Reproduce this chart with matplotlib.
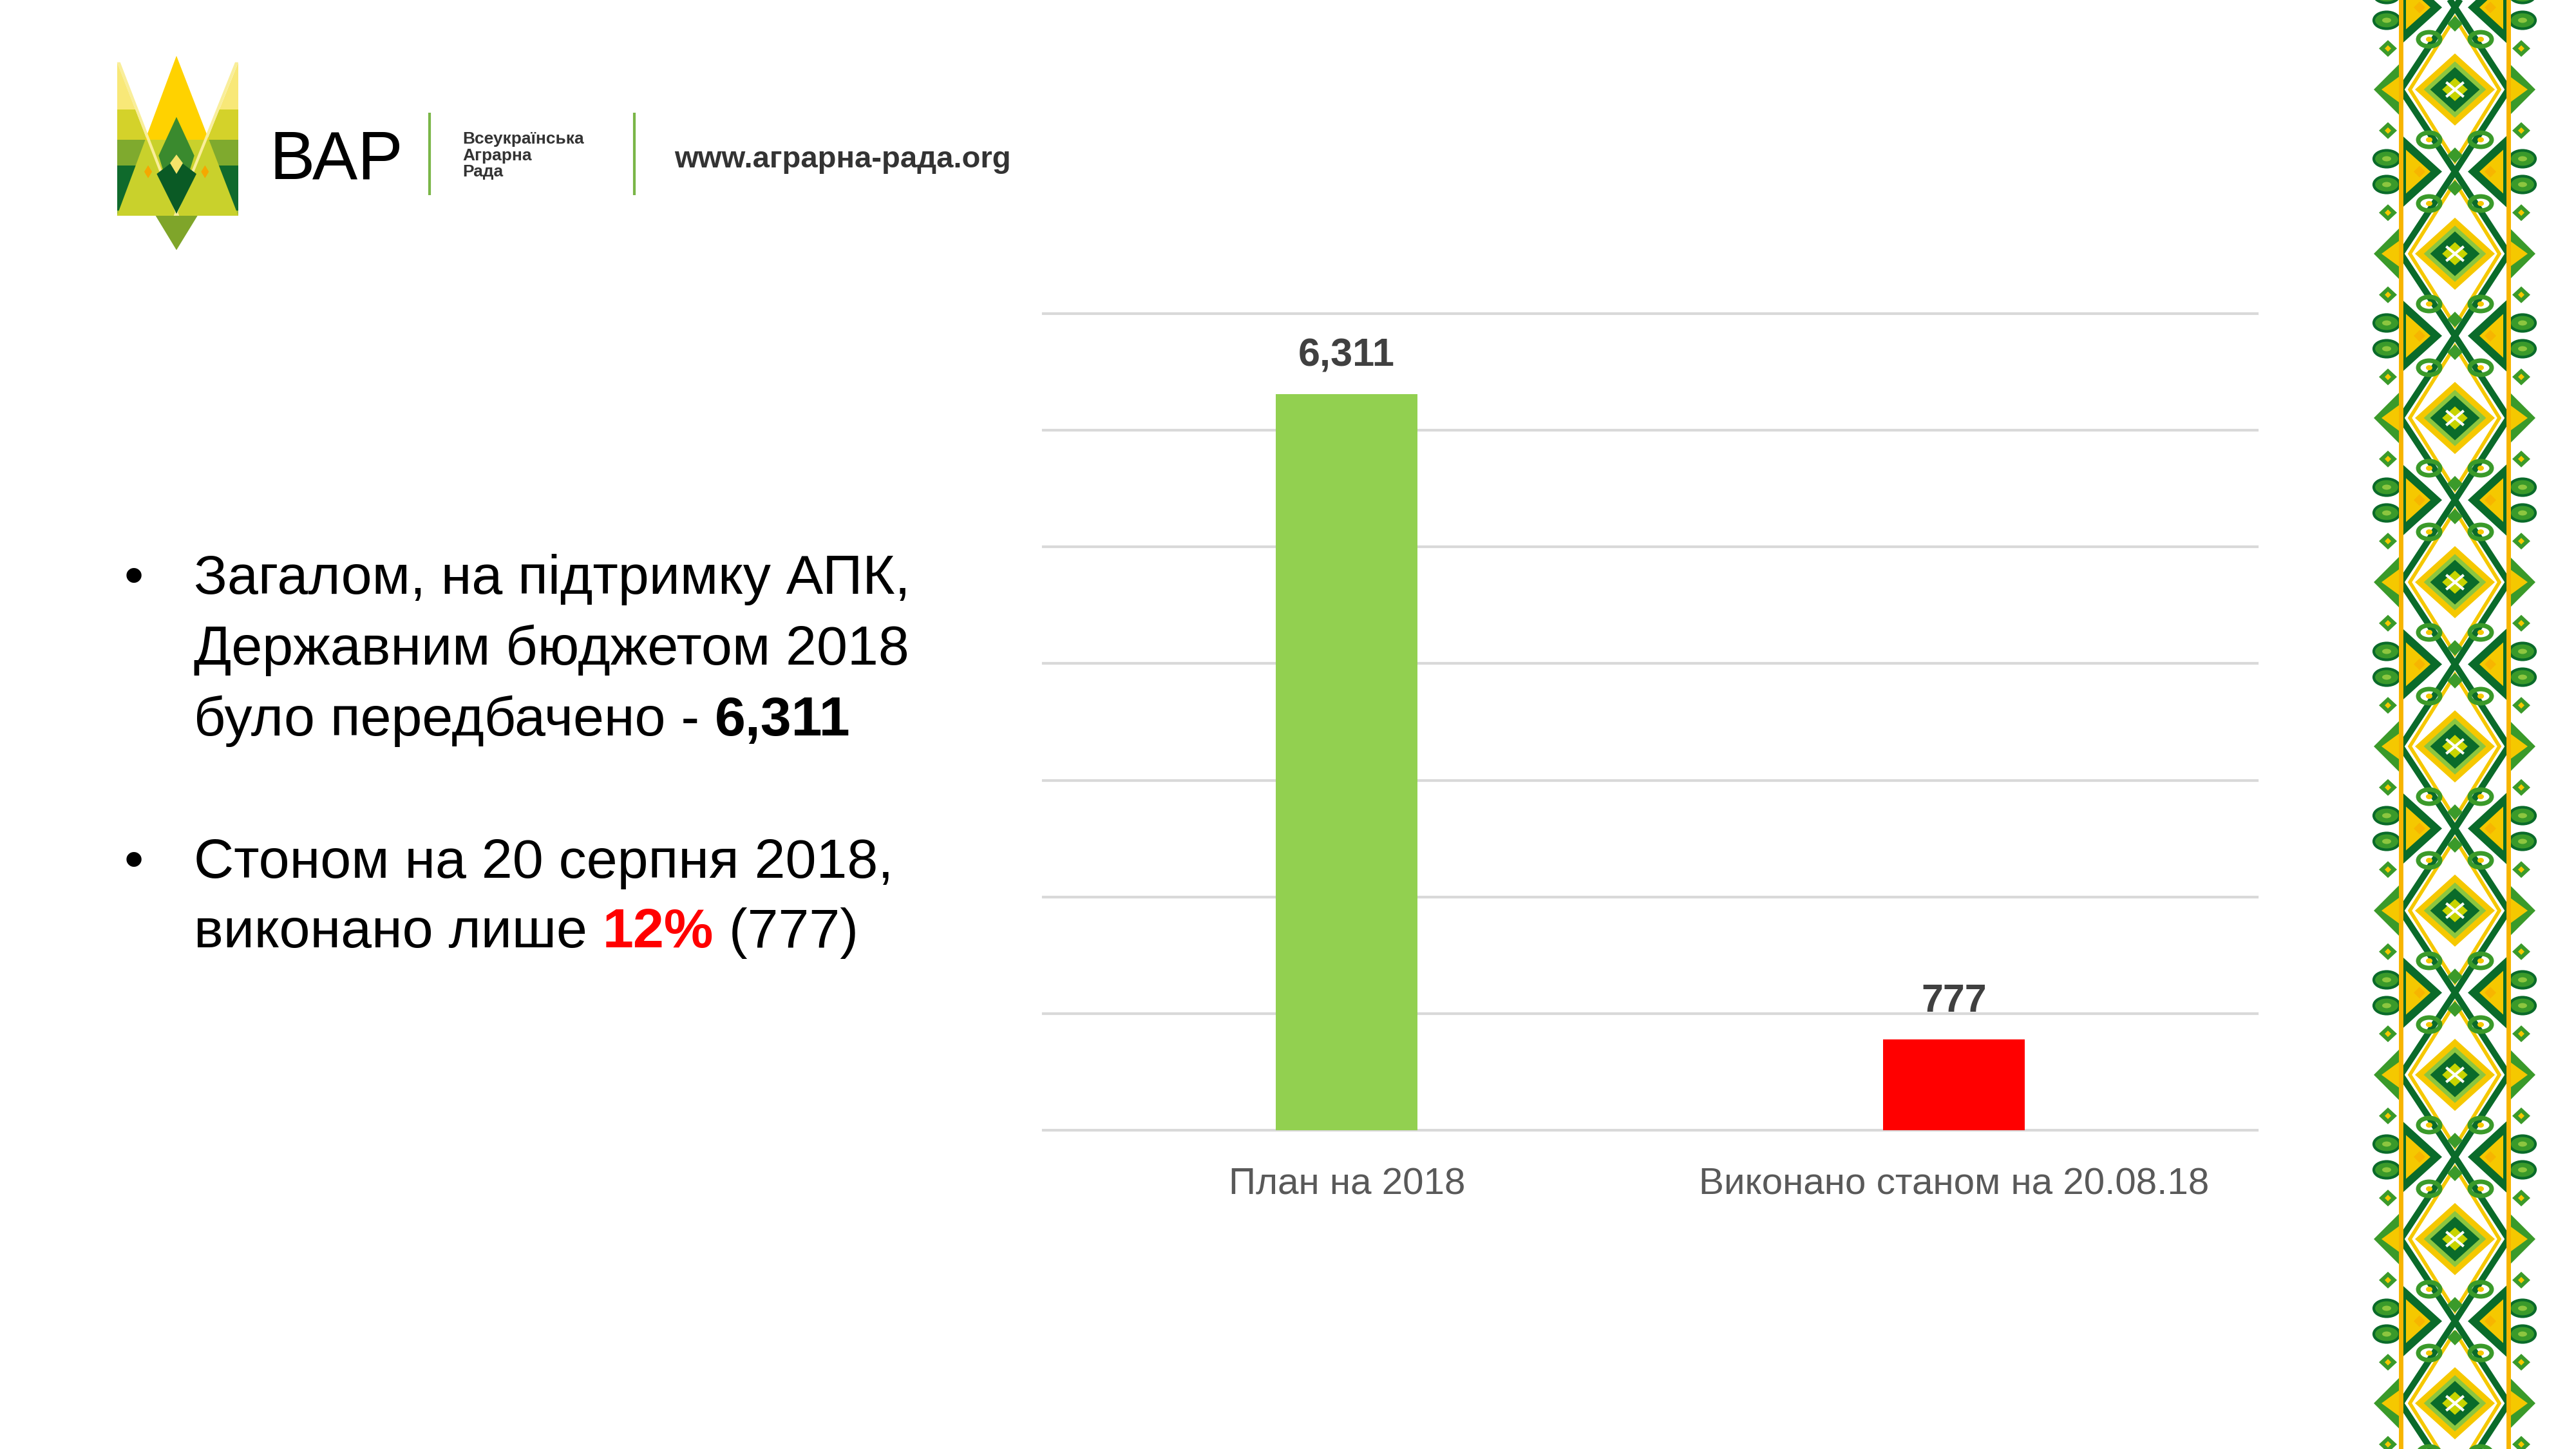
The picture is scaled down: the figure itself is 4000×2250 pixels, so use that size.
import matplotlib
matplotlib.use('Agg')
import matplotlib.pyplot as plt
from matplotlib.patches import Polygon, Ellipse, Rectangle

# ---------------- data ----------------
categories = ['План на 2018', 'Виконано станом на 20.08.18']
values = [6311, 777]
value_labels = ['6,311', '777']
bar_colors = ['#92D050', '#FF0000']
y_ticks = [0, 1000, 2000, 3000, 4000, 5000, 6000, 7000]

bullet1 = [[('Загалом, на підтримку АПК,', 'normal', 'black')],
           [('Державним бюджетом 2018', 'normal', 'black')],
           [('було передбачено - ', 'normal', 'black'), ('6,311', 'bold', 'black')]]
bullet2 = [[('Стоном на 20 серпня 2018,', 'normal', 'black')],
           [('виконано лише ', 'normal', 'black'), ('12%', 'bold', '#FF0000'),
            (' (777)', 'normal', 'black')]]

FONT = ['Liberation Sans', 'DejaVu Sans']
NARROW = ['Liberation Sans Narrow', 'Liberation Sans', 'DejaVu Sans']
plt.rcParams['font.family'] = FONT

W, H = 4000, 2250
fig = plt.figure(figsize=(40, 22.5), dpi=100)
fig.patch.set_facecolor('white')

# background axes in pixel coordinates (y downwards)
bg = fig.add_axes([0, 0, 1, 1])
bg.set_xlim(0, W)
bg.set_ylim(H, 0)
bg.axis('off')


def poly(pts, color, z=1, **kw):
    p = Polygon(pts, closed=True, facecolor=color, edgecolor='none', zorder=z, **kw)
    bg.add_patch(p)
    return p


# ---------------- logo ----------------
def L(zx, zy):
    return (150 + zx / 3.0, 60 + zy / 3.0)


def banded(tri, bands, z):
    clip = poly([L(*p) for p in tri], 'none', z)
    for (y0, y1, c) in bands:
        x0, ya = L(0, y0)
        x1, yb = L(900, y1)
        r = Rectangle((x0, ya), x1 - x0, yb - ya, facecolor=c, edgecolor='none', zorder=z)
        bg.add_patch(r)
        r.set_clip_path(clip)


side_bands = [(100, 330, '#F8E878'), (330, 470, '#D4D22A'), (470, 590, '#7FAA2E'),
              (590, 800, '#0F6A2C'), (800, 830, '#9DBB33')]
banded([(95, 110), (95, 825), (372, 825)], side_bands, 2)
banded([(660, 110), (660, 825), (372, 825)], side_bands, 2)
banded([(372, 80), (95, 825), (660, 825)],
       [(70, 470, '#FFD200'), (470, 830, '#C9D12C')], 3)
# light crossing stripes
poly([L(95, 110), L(110, 110), L(385, 825), L(372, 825)], '#F9EE9A', 3.2)
poly([L(660, 110), L(645, 110), L(359, 825), L(372, 825)], '#F9EE9A', 3.2)
poly([L(372, 365), L(455, 545), L(372, 815), L(289, 545)], '#3A8A2E', 4)
poly([L(280, 630), L(372, 560), L(465, 630), L(372, 815)], '#0A5A25', 4.2)
poly([L(372, 540), L(402, 580), L(372, 630), L(342, 580)], '#F5E36A', 4.4)
poly([L(240, 590), L(258, 620), L(240, 650), L(222, 620)], '#F5A800', 4.4)
poly([L(505, 590), L(523, 620), L(505, 650), L(487, 620)], '#F5A800', 4.4)
poly([L(275, 825), L(470, 825), L(372, 985)], '#7FA52A', 4)

bg.text(418, 278, 'ВАР', fontsize=76, color='black', va='baseline', ha='left', family=FONT, zorder=6)
bg.plot([667, 667], [175, 303], color='#7AB648', lw=3, solid_capstyle='butt', zorder=6)
bg.plot([985, 985], [175, 303], color='#7AB648', lw=3, solid_capstyle='butt', zorder=6)
for s, yy in zip(['Всеукраїнська', 'Аграрна', 'Рада'], [223, 249, 274]):
    bg.text(718, yy, s, fontsize=19, fontweight='bold', color='#333333', va='baseline',
            ha='left', family=NARROW, zorder=6)
bg.text(1047, 260, 'www.аграрна-рада.org', fontsize=34, fontweight='bold', color='#333333',
        va='baseline', ha='left', family=FONT, zorder=6)

# ---------------- embroidery strip ----------------
cx = 3812
xl, xr = 3728, 3895
P = 255
DG = '#0A6B2A'
MG = '#3A9A2A'
LG = '#8CC63F'
YE = '#F5C800'
OR = '#F7B500'
for k in range(-1, 10):
    yc = 139 + k * P
    # lattice frame
    fr = [(cx, yc - P / 2), (xr, yc), (cx, yc + P / 2), (xl, yc)]
    bg.add_patch(Polygon(fr, closed=True, facecolor='none', edgecolor=DG, lw=7, zorder=2))
    fr2 = [(cx, yc - P / 2 + 16), (xr - 14, yc), (cx, yc + P / 2 - 16), (xl + 14, yc)]
    bg.add_patch(Polygon(fr2, closed=True, facecolor='none', edgecolor=YE, lw=4, zorder=2))
    # big diamond
    for s, c in [(1.0, YE), (0.78, LG), (0.62, DG), (0.32, '#C8D400')]:
        poly([(cx, yc - 56 * s), (cx + 62 * s, yc), (cx, yc + 56 * s), (cx - 62 * s, yc)], c, 3)
    bg.plot([cx - 12, cx + 12], [yc - 10, yc + 10], color='white', lw=3, zorder=3.5)
    bg.plot([cx - 12, cx + 12], [yc + 10, yc - 10], color='white', lw=3, zorder=3.5)
    # curls around the big diamond
    for dx in (-40, 40):
        for dy in (-78, 78):
            bg.add_patch(Ellipse((cx + dx, yc + dy), 34, 22, facecolor='none', edgecolor=MG, lw=5, zorder=3))
            bg.add_patch(Ellipse((cx + dx, yc + dy), 10, 8, facecolor=YE, edgecolor='none', zorder=3))
    # small diamonds on the axis
    for dy in (-102, 102):
        poly([(cx, yc + dy - 12), (cx + 12, yc + dy), (cx, yc + dy + 12), (cx - 12, yc + dy)], MG, 3)
    # side triangles at the crossing
    yx = yc + P / 2
    poly([(xl, yx - 58), (xl, yx + 58), (cx - 20, yx)], DG, 2.5)
    poly([(xr, yx - 58), (xr, yx + 58), (cx + 20, yx)], DG, 2.5)
    poly([(xl + 8, yx - 34), (xl + 8, yx + 34), (cx - 38, yx)], YE, 2.6)
    poly([(xr - 8, yx - 34), (xr - 8, yx + 34), (cx + 38, yx)], YE, 2.6)
    for sx in (-1, 1):
        bx = cx + sx * 55
        poly([(bx, yx - 9), (bx + 9, yx), (bx, yx + 9), (bx - 9, yx)], OR, 2.7)
    # outer side elements
    poly([(xr, yc - 42), (xr, yc + 42), (xr + 42, yc)], MG, 2)
    poly([(xl, yc - 42), (xl, yc + 42), (xl - 42, yc)], MG, 2)
    poly([(xr, yc - 22), (xr, yc + 22), (xr + 30, yc)], YE, 2.1)
    poly([(xl, yc - 22), (xl, yc + 22), (xl - 30, yc)], YE, 2.1)
    for sgn in (-1, 1):
        for dy in (-20, 20):
            ex = xr + 22 if sgn > 0 else xl - 22
            bg.add_patch(Ellipse((ex, yx + dy), 40, 26, facecolor=MG, edgecolor=DG, lw=3, zorder=2))
            bg.add_patch(Ellipse((ex, yx + dy), 14, 8, facecolor=LG, edgecolor='none', zorder=2.1))
        for dy in (-P / 4, P / 4):
            ex = xr + 20 if sgn > 0 else xl - 20
            poly([(ex, yc + dy - 13), (ex + 14, yc + dy), (ex, yc + dy + 13), (ex - 14, yc + dy)], MG, 2)
            poly([(ex, yc + dy - 5), (ex + 5, yc + dy), (ex, yc + dy + 5), (ex - 5, yc + dy)], YE, 2.1)
bg.plot([xl, xl], [0, H], color=OR, lw=5, zorder=4)
bg.plot([xr, xr], [0, H], color=OR, lw=5, zorder=4)

# ---------------- left text ----------------
fig.canvas.draw()
renderer = fig.canvas.get_renderer()
TXT_SIZE = 62


def width_of(s, weight):
    t1 = bg.text(0, 0, s + '|', fontsize=TXT_SIZE, fontweight=weight, family=FONT)
    t2 = bg.text(0, 0, '|', fontsize=TXT_SIZE, fontweight=weight, family=FONT)
    w = t1.get_window_extent(renderer).width - t2.get_window_extent(renderer).width
    t1.remove()
    t2.remove()
    return w


def draw_line(x, y, runs):
    for s, weight, col in runs:
        bg.text(x, y, s, fontsize=TXT_SIZE, fontweight=weight, color=col, family=FONT,
                va='baseline', ha='left', zorder=6)
        x += width_of(s, weight)


for lines, ys in [(bullet1, [922, 1032, 1142]), (bullet2, [1363, 1471])]:
    bg.text(193, ys[0], '•', fontsize=TXT_SIZE, color='black', family=FONT, va='baseline', ha='left')
    for runs, yy in zip(lines, ys):
        draw_line(301, yy, runs)

# ---------------- chart ----------------
ax = fig.add_axes([1620 / W, 1 - 1755 / H, (3505 - 1620) / W, (1755 - 487) / H])
ax.set_facecolor('none')
xpos = list(range(len(categories)))
ax.bar(xpos, values, width=0.233, color=bar_colors, zorder=3)
ax.set_xlim(-0.5, len(categories) - 0.5)
ax.set_ylim(y_ticks[0], y_ticks[-1])
ax.set_yticks(y_ticks)
ax.yaxis.grid(True, color='#D9D9D9', lw=3)
ax.set_axisbelow(True)
for gl in ax.get_ygridlines():
    gl.set_clip_on(False)
for sp in ax.spines.values():
    sp.set_visible(False)
ax.tick_params(length=0, labelleft=False, labelbottom=False)
for x, v, lab in zip(xpos, values, value_labels):
    ax.annotate(lab, xy=(x, v), xytext=(0, 42), textcoords='offset points', ha='center',
                va='center', fontsize=44, fontweight='bold', color='#404040', family=FONT)
for x, cat in zip(xpos, categories):
    ax.annotate(cat, xy=(x, 0), xycoords=('data', 'axes fraction'), xytext=(0, -61),
                textcoords='offset points', ha='center', va='center', fontsize=42,
                color='#595959', family=FONT)

fig.savefig('out.png', dpi=100, facecolor='white')
